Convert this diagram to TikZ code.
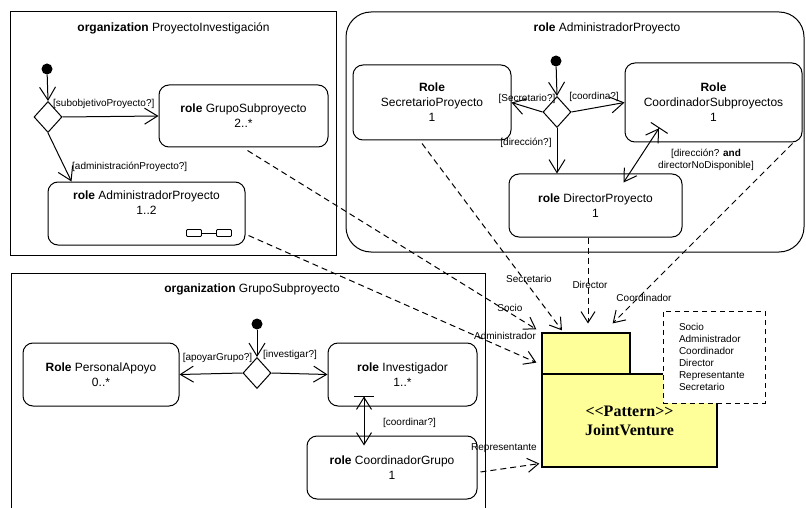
\documentclass[tikz,border=0pt]{standalone}
\usepackage{fontspec}
\setmainfont{Liberation Sans}
\newfontfamily\patternfont{Liberation Serif}
\usetikzlibrary{arrows.meta,shapes.geometric,calc}
\definecolor{patyellow}{RGB}{255,255,153}
\begin{document}
\begin{tikzpicture}[x=1pt,y=-1pt,
  frame/.style={draw, line width=1pt, inner sep=0pt},
  titlefont/.style={font=\fontsize{12}{14}\selectfont, inner sep=0pt},
  rolebox/.style={draw, line width=1pt, rounded corners=10pt, align=center,
    font=\fontsize{12}{15}\selectfont, inner sep=0pt},
  guard/.style={font=\fontsize{10}{12}\selectfont, inner sep=0pt},
  initdot/.style={circle, fill=black, minimum size=11pt, inner sep=0pt},
  choice/.style={diamond, draw, line width=1pt, minimum width=28pt, minimum height=31pt, inner sep=0pt},
  flow/.style={line width=1pt, -{Straight Barb[length=13pt,width=16pt]}},
  biflow/.style={line width=1pt, {Straight Barb[length=12pt,width=15pt]}-{Straight Barb[length=12pt,width=15pt] Bar[width=20pt]}},
  bind/.style={line width=1pt, dash pattern=on 6pt off 4pt, -{Straight Barb[length=11pt,width=14pt]}},
  bindlabel/.style={font=\fontsize{10}{12}\selectfont, inner sep=0pt},
  pattern/.style={draw, line width=1.2pt, fill=patyellow, inner sep=0pt},
  note/.style={draw, line width=1pt, dash pattern=on 5pt off 4pt, fill=white, align=left,
    font=\fontsize{10}{12}\selectfont, text width=70pt, inner xsep=16pt, minimum height=92pt}
]
\useasboundingbox (0,0) rectangle (806,508);

% ---------- frame 1 ----------
\node[frame, minimum width=326pt, minimum height=243pt] (f1) at (173,133.5) {};
\node[titlefont] (t1) at (173.5,28) {\textbf{organization} ProyectoInvestigación};
\node[initdot] (i1) at (47,69) {};
\node[choice] (d1) at (48,117) {};
\node[rolebox, minimum width=169pt, minimum height=62pt] (gs) at (243.5,116)
  {\textbf{role} GrupoSubproyecto\\2..*};
\node[rolebox, minimum width=197pt, minimum height=63pt] (ap) at (146.5,213.5)
  {\textbf{role} AdministradorProyecto\\1..2\\[6pt]\mbox{}};
\draw[line width=0.8pt, rounded corners=1pt] ($(ap.south east)+(-59,-16)$) rectangle ($(ap.south east)+(-44,-9)$);
\draw[line width=0.8pt, rounded corners=1pt] ($(ap.south east)+(-29,-16)$) rectangle ($(ap.south east)+(-14,-9)$);
\draw[line width=0.8pt] ($(ap.south east)+(-44,-12.5)$) -- ($(ap.south east)+(-29,-12.5)$);
\draw[flow] (i1) -- (d1.north);
\draw[flow] (d1.east) -- (gs.west);
\draw[flow] (d1.south) -- ($(ap.north west)+(24,0)$);
\node[guard, anchor=west] (g1) at (53,104) {[subobjetivoProyecto?]};
\node[guard, anchor=west] (g2) at (72,167) {[administraciónProyecto?]};

% ---------- frame 2 ----------
\node[frame, rounded corners=25pt, minimum width=458pt, minimum height=240pt] (f2) at (575,132) {};
\node[titlefont] (t2) at (607,28) {\textbf{role} AdministradorProyecto};
\node[initdot] (i2) at (556,61) {};
\node[choice] (d2) at (557,112) {};
\node[rolebox, minimum width=158pt, minimum height=75pt] (sp) at (432,102.5)
  {\textbf{Role}\\SecretarioProyecto\\1};
\node[rolebox, minimum width=177pt, minimum height=79pt] (cs) at (713.5,102.5)
  {\textbf{Role}\\CoordinadorSubproyectos\\1};
\node[rolebox, minimum width=173pt, minimum height=63pt] (dp) at (595.5,205.5)
  {\textbf{role} DirectorProyecto\\1};
\draw[flow] (i2) -- (d2.north);
\draw[flow] (d2.west) -- (sp.east);
\draw[flow] (d2.east) -- (cs.west);
\draw[flow] (d2.south) -- (d2.south |- dp.north);
\draw[biflow] ($(dp.north)+(28,9)$) -- ($(cs.south)+(-54,-15)$);
\node[guard] (g3) at (527,99) {[Secretario?]};
\node[guard] (g4) at (594,97) {[coordina?]};
\node[guard] (g5) at (526,143) {[dirección?]};
\node[guard, align=center] (g6) at (706,160) {[dirección? \textbf{and}\\directorNoDisponible]};

% ---------- frame 3 ----------
\node[frame, minimum width=474pt, minimum height=250pt] (f3) at (248,398) {};
\node[titlefont] (t3) at (252,289) {\textbf{organization} GrupoSubproyecto};
\node[initdot] (i3) at (257,324) {};
\node[choice] (d3) at (257,373) {};
\node[rolebox, minimum width=156pt, minimum height=63pt] (pa) at (101,374.5)
  {\textbf{Role} PersonalApoyo\\0..*};
\node[rolebox, minimum width=149pt, minimum height=63pt] (inv) at (402.5,374.5)
  {\textbf{role} Investigador\\1..*};
\node[rolebox, minimum width=170pt, minimum height=63pt] (cg) at (392,467.5)
  {\textbf{role} CoordinadorGrupo\\1};
\draw[flow] (i3) -- (d3.north);
\draw[flow] (d3.west) -- (pa.east);
\draw[flow] (d3.east) -- (inv.west);
\draw[biflow] ($(cg.north)+(-28,10)$) -- ($(inv.south)+(-38.5,-11)$);
\node[guard] (g7) at (217.5,358) {[apoyarGrupo?]};
\node[guard] (g8) at (290,355) {[investigar?]};
\node[guard] (g9) at (409.5,423) {[coordinar?]};

% ---------- pattern ----------
\node[pattern, minimum width=88pt, minimum height=41pt] (pt) at (586,353.5) {};
\node[pattern, minimum width=175pt, minimum height=93pt, align=center,
  font=\patternfont\bfseries\fontsize{16}{19}\selectfont] (pb) at (629.5,420.5)
  {<{}<Pattern>{}>\\JointVenture};
\node[note] (nt) at (714,357)
  {Socio\\Administrador\\Coordinador\\Director\\Representante\\Secretario};

% ---------- role bindings ----------
\draw[bind] ($(gs.south)+(4,3)$) -- ($(pt.north west)+(-5,-3)$);
\draw[bind] ($(ap.south east)+(3,-10)$) -- ($(pt.south west)+(-5,-12)$);
\draw[bind] ($(sp.south)+(-10,3)$) -- ($(pt.north)+(-24,-2)$);
\draw[bind] ($(dp.south)+(-7.5,0)$) -- ($(dp.south)+(-7.5,86)$);
\draw[bind] ($(cs.south east)+(-10,1)$) -- ($(pt.north east)+(-18,-9)$);
\draw[bind] ($(cg.east)+(3,4.5)$) -- ($(pb.south west)+(-2,-4)$);
\node[bindlabel] (lsoc) at (510,308) {Socio};
\node[bindlabel] (ladm) at (505,336) {Administrador};
\node[bindlabel] (lsec) at (529,279) {Secretario};
\node[bindlabel] (ldir) at (590,285) {Director};
\node[bindlabel] (lcoo) at (644,298) {Coordinador};
\node[bindlabel] (lrep) at (504,448) {Representante};
\end{tikzpicture}
\end{document}
